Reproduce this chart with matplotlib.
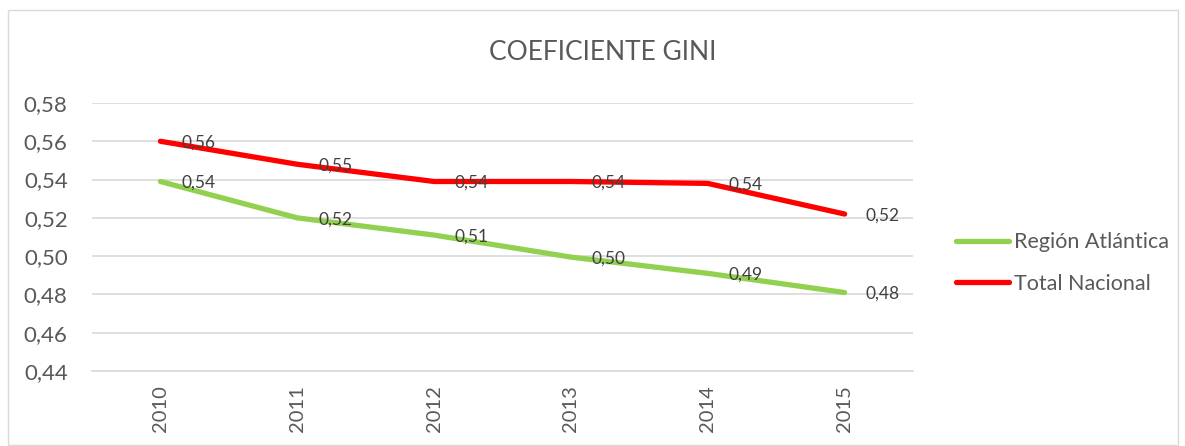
import matplotlib
matplotlib.use("Agg")
import matplotlib.pyplot as plt
from matplotlib.patches import Rectangle

years = ["2010", "2011", "2012", "2013", "2014", "2015"]
region_atlantica = [0.539, 0.520, 0.511, 0.4995, 0.491, 0.481]
total_nacional = [0.560, 0.548, 0.539, 0.539, 0.538, 0.522]
y_ticks = [0.44, 0.46, 0.48, 0.50, 0.52, 0.54, 0.56, 0.58]

plt.rcParams['font.family'] = ['Lato', 'DejaVu Sans']
text_color = "#595959"
grid_color = "#D9D9D9"

fig = plt.figure(figsize=(11.85, 4.46), dpi=100)
ax = fig.add_axes([92/1185, 1-371/446, (913-92)/1185, (371-103)/446])

x = list(range(len(years)))
series = [("Región Atlántica", region_atlantica, "#92D050"),
          ("Total Nacional", total_nacional, "#FF0000")]
for name, vals, col in series:
    ax.plot(x, vals, color=col, lw=3.8, solid_capstyle='round',
            solid_joinstyle='round', label=name)
    for xi, v in zip(x, vals):
        ax.annotate(f"{v:.2f}".replace(".", ","), (xi, v), xytext=(15, -1),
                    textcoords="offset points", ha="left", va="center",
                    fontsize=12.5, color="#404040")

ax.set_xlim(-0.5, len(years) - 0.5)
ax.set_ylim(y_ticks[0], y_ticks[-1])
ax.set_yticks(y_ticks)
ax.set_yticklabels([f"{t:.2f}".replace(".", ",") for t in y_ticks],
                   fontsize=16, color=text_color)
ax.set_xticks(x)
ax.set_xticklabels(years, rotation=90, fontsize=14.5, color=text_color)
ax.tick_params(axis='both', length=0)
ax.tick_params(axis='y', pad=17.5)
ax.tick_params(axis='x', pad=10)
ax.grid(axis='y', color=grid_color, lw=1.2)
ax.set_axisbelow(True)
for s in ["top", "right", "left"]:
    ax.spines[s].set_visible(False)
ax.spines["bottom"].set_color(grid_color)
ax.spines["bottom"].set_linewidth(1.2)

fig.text(603/1185, 1-52/446, "COEFICIENTE GINI", ha="center", va="center",
         fontsize=19, color=text_color)

leg = fig.legend(loc="center left", bbox_to_anchor=(937/1185, 1-263/446),
                 frameon=False, fontsize=15.5, labelcolor=text_color,
                 handlelength=2.45, labelspacing=1.0, handletextpad=0.25)

fig.patches.append(Rectangle((8/1185, 0.002), 1170/1185, 1-10/446-0.002,
                             transform=fig.transFigure, fill=False,
                             edgecolor="#D9D9D9", lw=1))

fig.savefig("out.png", dpi=100)
